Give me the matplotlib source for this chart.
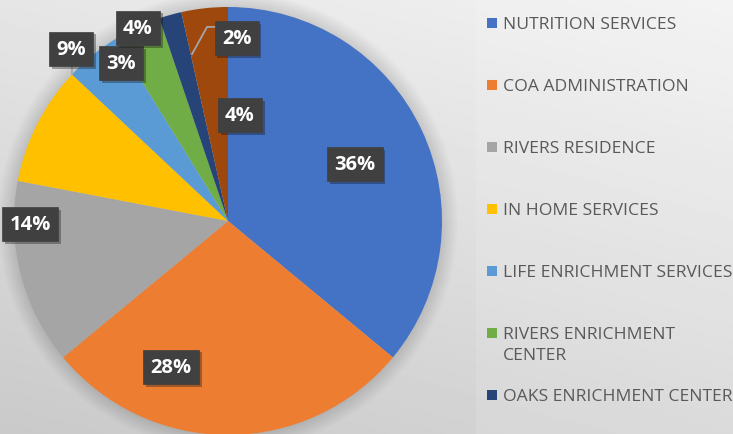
import matplotlib
matplotlib.use("Agg")
import matplotlib.pyplot as plt
import matplotlib.patheffects as pe
from matplotlib.patches import Rectangle, Circle
import numpy as np

# slice sizes (clockwise from 12 o'clock)
shares = [36, 28, 14, 9, 4.2, 3.6, 1.7, 3.5]
# the data labels as printed on the chart
pct_labels = ["36%", "28%", "14%", "9%", "3%", "4%", "2%", "4%"]
# legend names (8th slice's entry is cut off in the original)
categories = ["NUTRITION SERVICES", "COA ADMINISTRATION", "RIVERS RESIDENCE",
              "IN HOME SERVICES", "LIFE ENRICHMENT SERVICES",
              "RIVERS ENRICHMENT\nCENTER", "OAKS ENRICHMENT CENTER"]
colors = ["#4472C4", "#ED7D31", "#A5A5A5", "#FFC000",
          "#5B9BD5", "#70AD47", "#264478", "#9E480E"]

# label box positions in pie units (radius = 1)
label_pos = [(0.593, 0.266), (-0.266, -0.682), (-0.925, -0.014), (-0.734, 0.804),
             (-0.500, 0.738), (-0.421, 0.902), (0.040, 0.855), (0.056, 0.495)]

W, H = 733, 435
fig = plt.figure(figsize=(W / 100, H / 100), dpi=100)

# background gradient
bg = fig.add_axes([0, 0, 1, 1])
bg.axis("off")
xx, yy = np.meshgrid(np.linspace(0, 1, 200), np.linspace(0, 1, 200))
shade = 0.79 + 0.11 * yy + 0.05 * xx
bg.imshow(shade, cmap="gray", vmin=0, vmax=1, extent=[0, 1, 0, 1],
          origin="lower", aspect="auto")
bg.add_patch(Rectangle((476 / W, 0), 1, 1, color="white", alpha=0.12, lw=0))
bg.set_xlim(0, 1)
bg.set_ylim(0, 1)

# pie axes: centre at (228, 222) px, radius 214 px
cx, cy, r = 228, 222, 214
lim = 1.2
ax = fig.add_axes([(cx - lim * r) / W, (H - cy - lim * r) / H,
                   2 * lim * r / W, 2 * lim * r / H])
ax.set_facecolor("none")

# soft outer shadow
for k in range(16):
    ax.add_patch(Circle((0, 0), 1 + 0.005 * k, color="black", alpha=0.009, lw=0, zorder=0))

ax.pie(shares, colors=colors, startangle=90, counterclock=False, radius=1,
       wedgeprops=dict(linewidth=0, zorder=1), frame=False)
ax.set_xlim(-lim, lim)
ax.set_ylim(-lim, lim)
ax.axis("off")

# leader lines
ax.plot([-0.729, -0.729], [0.724, 0.687], color="#a6a6a6", lw=1.3, zorder=2)
ax.plot([-0.056, -0.098, -0.168], [0.907, 0.907, 0.780], color="#a6a6a6", lw=1.3, zorder=2)

for (x, y), s in zip(label_pos, pct_labels):
    t = ax.text(x, y, s, ha="center", va="center", color="white", fontsize=14.5,
                fontweight="bold", family="Open Sans", zorder=5,
                bbox=dict(boxstyle="square,pad=0.36", fc="#404040", ec="#404040", lw=0.5))
    t.get_bbox_patch().set_path_effects(
        [pe.SimplePatchShadow(offset=(2, -2), alpha=0.35), pe.Normal()])

# legend
for i, name in enumerate(categories):
    ypx = 24 + 62 * i
    fig.add_artist(Rectangle((487 / W, (H - ypx - 5) / H), 10 / W, 10 / H,
                             transform=fig.transFigure, color=colors[i], lw=0))
    fig.text(503 / W, (H - ypx + 7) / H, name, va="top", ha="left",
             fontsize=12.6, family="Open Sans", color="#595959", linespacing=1.42)

fig.savefig("out.png", dpi=100)
